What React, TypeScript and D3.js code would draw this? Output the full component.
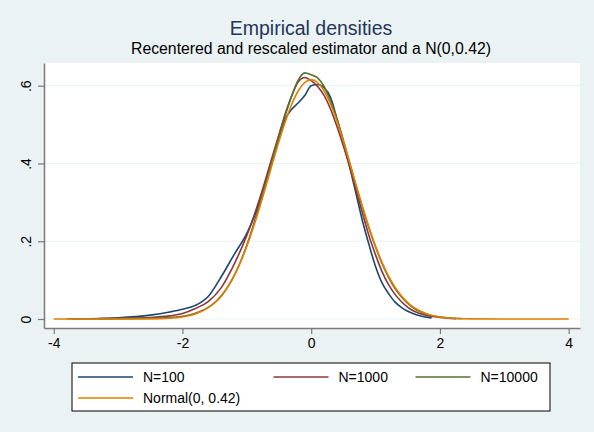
import { useEffect, useRef } from 'react';
import { axisBottom, axisLeft, curveMonotoneX, line, scaleLinear, select } from 'd3';

// density curves, [x, density]
const n100: [number, number][] = [
  [-3.3, 0.001], [-3.0, 0.003], [-2.5, 0.01], [-2.2, 0.018], [-2.0, 0.025], [-1.8, 0.035],
  [-1.6, 0.058], [-1.4, 0.108], [-1.2, 0.165], [-1.0, 0.22], [-0.8, 0.3], [-0.6, 0.41],
  [-0.5, 0.465], [-0.4, 0.515], [-0.3, 0.54], [-0.2, 0.556], [-0.1, 0.575], [0, 0.6],
  [0.1, 0.603], [0.2, 0.595], [0.3, 0.57], [0.4, 0.515], [0.5, 0.455], [0.6, 0.39],
  [0.7, 0.32], [0.8, 0.25], [0.9, 0.19], [1.0, 0.135], [1.1, 0.093], [1.2, 0.066],
  [1.3, 0.044], [1.4, 0.03], [1.5, 0.02], [1.6, 0.013], [1.7, 0.008], [1.87, 0.003],
];

const n1000: [number, number][] = [
  [-3.7, 0.0005], [-3.0, 0.002], [-2.5, 0.004], [-2.2, 0.008], [-2.0, 0.014], [-1.8, 0.027],
  [-1.6, 0.045], [-1.4, 0.08], [-1.2, 0.14], [-1.0, 0.215], [-0.8, 0.31], [-0.6, 0.42],
  [-0.5, 0.475], [-0.4, 0.53], [-0.3, 0.575], [-0.2, 0.61], [-0.1, 0.621], [0, 0.613],
  [0.1, 0.598], [0.2, 0.575], [0.3, 0.54], [0.4, 0.495], [0.5, 0.445], [0.6, 0.39],
  [0.7, 0.33], [0.8, 0.27], [0.9, 0.213], [1.0, 0.165], [1.1, 0.122], [1.2, 0.089],
  [1.3, 0.064], [1.4, 0.045], [1.5, 0.03], [1.6, 0.02], [1.8, 0.009], [2.0, 0.004], [2.25, 0.001],
];

const n10000: [number, number][] = [
  [-3.8, 0.0005], [-3.0, 0.001], [-2.5, 0.002], [-2.2, 0.004], [-2.0, 0.007], [-1.8, 0.015],
  [-1.6, 0.03], [-1.4, 0.058], [-1.2, 0.11], [-1.0, 0.19], [-0.8, 0.295], [-0.6, 0.41],
  [-0.5, 0.47], [-0.4, 0.525], [-0.3, 0.575], [-0.2, 0.615], [-0.1, 0.633], [0, 0.628],
  [0.1, 0.62], [0.2, 0.598], [0.3, 0.56], [0.4, 0.515], [0.5, 0.46], [0.6, 0.4],
  [0.7, 0.34], [0.8, 0.285], [0.9, 0.232], [1.0, 0.185], [1.1, 0.143], [1.2, 0.108],
  [1.3, 0.079], [1.4, 0.057], [1.5, 0.04], [1.6, 0.027], [1.8, 0.012], [2.0, 0.005],
  [2.2, 0.002], [2.35, 0.001],
];

const normal: [number, number][] = [
  [-4, 0], [-3, 0.00005], [-2.5, 0.00036], [-2.2, 0.0019], [-2.0, 0.0053], [-1.8, 0.013],
  [-1.6, 0.0292], [-1.5, 0.0423], [-1.4, 0.0597], [-1.3, 0.0823], [-1.2, 0.1109], [-1.1, 0.1458],
  [-1.0, 0.1872], [-0.9, 0.2347], [-0.8, 0.2874], [-0.7, 0.3435], [-0.6, 0.401], [-0.5, 0.4571],
  [-0.4, 0.5088], [-0.3, 0.553], [-0.2, 0.587], [-0.1, 0.6083], [0, 0.6156], [0.1, 0.6083],
  [0.2, 0.587], [0.3, 0.553], [0.4, 0.5088], [0.5, 0.4571], [0.6, 0.401], [0.7, 0.3435],
  [0.8, 0.2874], [0.9, 0.2347], [1.0, 0.1872], [1.1, 0.1458], [1.2, 0.1109], [1.3, 0.0823],
  [1.4, 0.0597], [1.5, 0.0423], [1.6, 0.0292], [1.8, 0.013], [2.0, 0.0053], [2.2, 0.0019],
  [2.5, 0.00036], [3, 0.00005], [4, 0],
];

const seriesNames = ['N=100', 'N=1000', 'N=10000', 'Normal(0, 0.42)'];
const seriesData = [n100, n1000, n10000, normal];
const seriesColors = ['#1a476f', '#90353b', '#55752f', '#e37e00'];

const xTicks = [-4, -2, 0, 2, 4];
const yTicks = [0, 0.2, 0.4, 0.6];
const yTickLabels = ['0', '.2', '.4', '.6'];

const title = 'Empirical densities';
const subtitle = 'Recentered and rescaled estimator and a N(0,0.42)';

export default function App() {
  const svgRef = useRef<SVGSVGElement | null>(null);
  const width = 594;
  const height = 432;
  const plot = { left: 44, right: 580, top: 63, bottom: 328 };
  const font = '"Liberation Sans", Arial, Helvetica, sans-serif';

  useEffect(() => {
    const svgEl = svgRef.current;
    if (!svgEl) return;
    const svg = select(svgEl);
    svg.selectAll('*').remove();

    const x = scaleLinear().domain([-4.151, 4.176]).range([plot.left, plot.right]);
    const y = scaleLinear().domain([-0.0231, 0.6584]).range([plot.bottom, plot.top]);

    svg.append('rect').attr('width', width).attr('height', height).attr('fill', '#eaf2f3');
    svg
      .append('rect')
      .attr('x', plot.left)
      .attr('y', plot.top)
      .attr('width', plot.right - plot.left)
      .attr('height', plot.bottom - plot.top)
      .attr('fill', '#ffffff');

    // gridlines
    svg
      .append('g')
      .selectAll('line')
      .data(yTicks)
      .join('line')
      .attr('x1', plot.left)
      .attr('x2', plot.right)
      .attr('y1', (d) => y(d))
      .attr('y2', (d) => y(d))
      .attr('stroke', '#eaf2f3')
      .attr('stroke-width', 1.2);

    const path = line<[number, number]>()
      .x((d) => x(d[0]))
      .y((d) => y(d[1]))
      .curve(curveMonotoneX);

    svg
      .append('g')
      .selectAll('path')
      .data(seriesData)
      .join('path')
      .attr('d', (d) => path(d))
      .attr('fill', 'none')
      .attr('stroke', (_, i) => seriesColors[i])
      .attr('stroke-width', 1.6)
      .attr('stroke-linejoin', 'round');

    const yAxis = svg
      .append('g')
      .attr('transform', `translate(${plot.left},0)`)
      .call(
        axisLeft(y)
          .tickValues(yTicks)
          .tickFormat((_, i) => yTickLabels[i])
          .tickSize(6)
          .tickSizeOuter(0)
      );
    yAxis.select('.domain').attr('stroke', '#7a7a7a').attr('stroke-width', 1.5);
    yAxis.selectAll('.tick line').attr('stroke', '#7a7a7a').attr('stroke-width', 1.2);
    yAxis
      .selectAll<SVGTextElement, number>('.tick text')
      .attr('fill', '#000')
      .attr('font-size', 14)
      .attr('font-family', font)
      .attr('text-anchor', 'middle')
      .attr('x', 0)
      .attr('dy', 0)
      .attr('transform', 'translate(-13,0) rotate(-90)');

    const xAxis = svg
      .append('g')
      .attr('transform', `translate(0,${plot.bottom})`)
      .call(axisBottom(x).tickValues(xTicks).tickFormat((d) => String(d)).tickSize(6).tickSizeOuter(0));
    xAxis.select('.domain').attr('stroke', '#7a7a7a').attr('stroke-width', 1.5);
    xAxis.selectAll('.tick line').attr('stroke', '#7a7a7a').attr('stroke-width', 1.2);
    xAxis
      .selectAll('.tick text')
      .attr('fill', '#000')
      .attr('font-size', 14)
      .attr('font-family', font)
      .attr('y', 10)
      .attr('dy', '0.71em');

    const cx = (plot.left + plot.right) / 2 - 1;
    svg
      .append('text')
      .attr('x', cx)
      .attr('y', 35)
      .attr('text-anchor', 'middle')
      .attr('font-family', font)
      .attr('font-size', 19.5)
      .attr('fill', '#24355a')
      .text(title);
    svg
      .append('text')
      .attr('x', cx)
      .attr('y', 54)
      .attr('text-anchor', 'middle')
      .attr('font-family', font)
      .attr('font-size', 15.8)
      .attr('fill', '#000')
      .text(subtitle);

    // legend
    const legend = svg.append('g');
    legend
      .append('rect')
      .attr('x', 72)
      .attr('y', 363)
      .attr('width', 478)
      .attr('height', 48)
      .attr('fill', '#fff')
      .attr('stroke', '#000')
      .attr('stroke-width', 1);
    const colX = [78, 273.5, 415.5];
    const rowY = [377, 398];
    seriesNames.forEach((name, i) => {
      const lx = colX[i % 3];
      const ly = rowY[Math.floor(i / 3)];
      legend
        .append('line')
        .attr('x1', lx)
        .attr('x2', lx + 55)
        .attr('y1', ly)
        .attr('y2', ly)
        .attr('stroke', seriesColors[i])
        .attr('stroke-width', 1.6);
      legend
        .append('text')
        .attr('x', lx + 65)
        .attr('y', ly)
        .attr('dy', '0.35em')
        .attr('font-family', font)
        .attr('font-size', 14)
        .attr('fill', '#000')
        .text(name);
    });
  }, []);

  return (
    <svg
      ref={svgRef}
      width={width}
      height={height}
      style={{ position: 'absolute', left: 0, top: 0, display: 'block' }}
    />
  );
}
